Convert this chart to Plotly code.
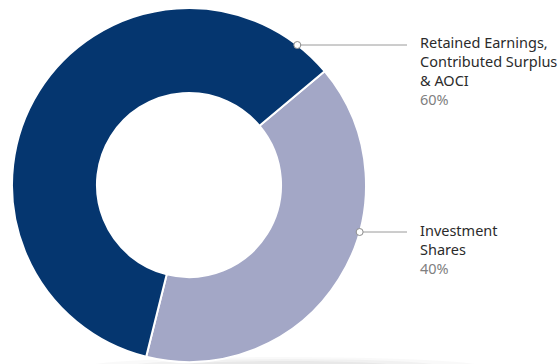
import math
import plotly.graph_objects as go

# Shareholders' equity composition
labels = ["Investment Shares", "Retained Earnings, Contributed Surplus & AOCI"]
label_lines = [["Investment", "Shares"], ["Retained Earnings,", "Contributed Surplus", "& AOCI"]]
values = [40, 60]
colors = ["#a3a7c6", "#05366f"]

W, H = 559, 364
CX, CY, R = 189, 185, 177        # donut centre / outer radius in px
HOLE = 0.52

fig = go.Figure(go.Pie(
    labels=labels,
    values=values,
    hole=HOLE,
    sort=False,
    direction="clockwise",
    rotation=50,
    marker=dict(colors=colors, line=dict(color="white", width=2)),
    textinfo="none",
    hoverinfo="label+percent",
    domain=dict(x=[(CX - R) / W, (CX + R) / W],
                y=[(H - CY - R) / H, (H - CY + R) / H]),
))

def px(x):
    return x / W

def py(y):
    return 1 - y / H

shapes, annotations = [], []

# soft floor shadow under the ring
for w, h, op in [(200, 10, 0.025), (160, 8, 0.03), (120, 6, 0.035)]:
    sx, sy = 285, 367
    shapes.append(dict(type="circle", xref="paper", yref="paper", layer="below",
                       x0=px(sx - w), x1=px(sx + w), y0=py(sy + h), y1=py(sy - h),
                       fillcolor="black", opacity=op, line=dict(width=0)))

total = sum(values)
FONT = 14.5
TEXT_X = 418
LINE_END = 407
# leader row (px) and text-block centre (px) for each slice
rows = [(232, 248.5), (45, 71)]
for lines, v, (ly, cy) in zip(label_lines, values, rows):
    dx = math.sqrt(R * R - (ly - CY) ** 2)
    mx = CX + dx
    shapes.append(dict(type="line", xref="paper", yref="paper",
                       x0=px(mx + 3.5), x1=px(LINE_END), y0=py(ly), y1=py(ly),
                       line=dict(color="#9a9a9a", width=1)))
    shapes.append(dict(type="circle", xref="paper", yref="paper",
                       x0=px(mx - 3.5), x1=px(mx + 3.5), y0=py(ly - 3.5), y1=py(ly + 3.5),
                       fillcolor="white", line=dict(color="#8a8a8a", width=1)))
    pct = f"{round(100 * v / total)}%"
    text = "<br>".join(lines) + f"<br><span style='color:#808080'>{pct}</span>"
    annotations.append(dict(
        x=px(TEXT_X), y=py(cy), xref="paper", yref="paper",
        text=text, showarrow=False, xanchor="left", yanchor="middle", align="left",
        font=dict(family="Source Sans Pro, Noto Sans, sans-serif", size=FONT, color="#2b2b2b"),
    ))

fig.update_layout(
    width=W, height=H,
    margin=dict(l=0, r=0, t=0, b=0),
    paper_bgcolor="white", plot_bgcolor="white",
    showlegend=False,
    shapes=shapes,
    annotations=annotations,
)

fig.write_html("out.html")
